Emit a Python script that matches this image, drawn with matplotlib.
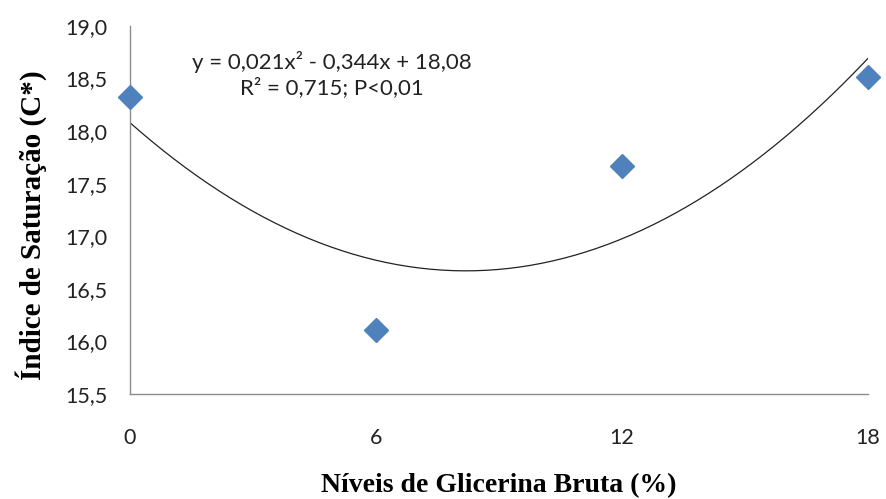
import numpy as np
import matplotlib as mpl
import matplotlib.pyplot as plt

# data
levels = [0, 6, 12, 18]
saturation = [18.32, 16.11, 17.67, 18.51]
# quadratic trendline coefficients as printed on the chart (a, b, c)
trend_coef = [0.021, -0.344, 18.08]

x_ticks = [0, 6, 12, 18]
y_ticks = [15.5, 16.0, 16.5, 17.0, 17.5, 18.0, 18.5, 19.0]

mpl.rcParams.update({
    "font.family": "Lato",
    "font.size": 15,
})

MARKER_BLUE = "#4F81BD"
AXIS_GRAY = "#8c8c8c"

fig = plt.figure(figsize=(8.86, 4.99), dpi=100)
ax = fig.add_axes([0.1467, 0.2104, 0.8330, 0.7376])

xs = np.linspace(min(levels), max(levels), 200)
ax.plot(xs, np.polyval(trend_coef, xs), color="#222222", lw=0.9, zorder=2)
ax.plot(levels, saturation, ls="none", marker="D", ms=12.5,
        color=MARKER_BLUE, mec=MARKER_BLUE, zorder=3, clip_on=False)

ax.set_xlim(0, 18)
ax.set_ylim(15.5, 19.0)
ax.set_xticks(x_ticks)
ax.set_xticklabels([str(t) for t in x_ticks])
ax.set_yticks(y_ticks)
ax.set_yticklabels([f"{t:.1f}".replace(".", ",") for t in y_ticks])
ax.tick_params(axis="both", length=0, labelsize=15.5, colors="#222222")
ax.tick_params(axis="x", pad=24.5)
ax.tick_params(axis="y", pad=16.5)

for side in ("top", "right"):
    ax.spines[side].set_visible(False)
for side in ("left", "bottom"):
    ax.spines[side].set_color(AXIS_GRAY)
    ax.spines[side].set_linewidth(1.0)

label_font = dict(family="Liberation Serif", fontweight="bold")
ax.set_xlabel("Níveis de Glicerina Bruta (%)", labelpad=18, fontsize=20, **label_font)
ax.set_ylabel("Índice de Saturação (C*)", fontsize=21, **label_font)
ax.yaxis.set_label_coords(-0.112, 0.46)

ax.text(0.274, 0.867, "y = 0,021x² - 0,344x + 18,08\nR² = 0,715; P<0,01",
        transform=ax.transAxes, ha="center", va="center", fontsize=16,
        linespacing=1.25, color="#222222")

fig.savefig("out.png", dpi=100)
